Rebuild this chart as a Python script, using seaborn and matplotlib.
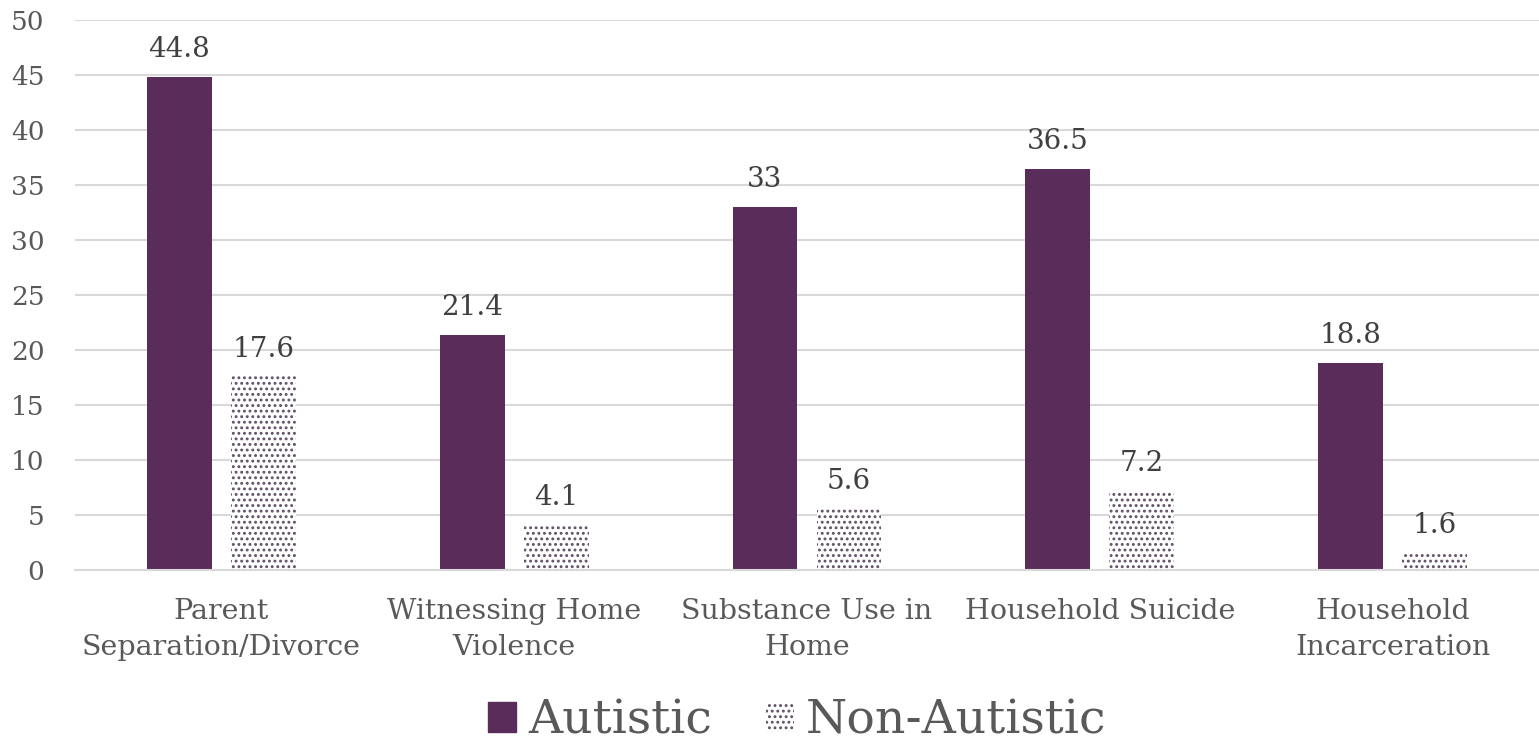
import pandas as pd
import matplotlib.pyplot as plt
import seaborn as sns
from matplotlib.patches import Patch

categories = ['Parent\nSeparation/Divorce', 'Witnessing Home\nViolence',
              'Substance Use in\nHome', 'Household Suicide',
              'Household\nIncarceration']
autistic = [44.8, 21.4, 33, 36.5, 18.8]
non_autistic = [17.6, 4.1, 5.6, 7.2, 1.6]
groups = ['Autistic', 'Non-Autistic']

df = pd.DataFrame({
    'category': categories * 2,
    'value': autistic + non_autistic,
    'group': [groups[0]] * len(categories) + [groups[1]] * len(categories),
})

sns.set_style('white')
plt.rcParams['font.family'] = ['DejaVu Serif', 'DejaVu Sans']
plt.rcParams['hatch.linewidth'] = 1.3

purple = '#5a2c5a'
dot_color = '#5e4f63'
text_grey = '#595959'

fig = plt.figure(figsize=(15.39, 7.43), dpi=100)
ax = fig.add_axes([75 / 1539, 1 - 570 / 743, 1 - 75 / 1539, 550 / 743])

# bars of ~66px with a ~19px gap inside each pair
sns.barplot(data=df, x='category', y='value', hue='group',
            palette=[purple, 'white'], width=0.575, gap=0.23,
            saturation=1, ax=ax, legend=False, linewidth=0)

for bar in ax.containers[1]:
    bar.set_hatch('...')
    bar.set_edgecolor(dot_color)
    bar.set_linewidth(0)

for cont in ax.containers:
    ax.bar_label(cont, fmt='%g', padding=10, fontsize=20, color='#404040')

ax.set_ylim(0, 50)
ax.set_yticks(range(0, 51, 5))
ax.set_xlim(-0.5, 4.5)
ax.yaxis.grid(True, color='#d9d9d9', linewidth=1.5)
ax.set_axisbelow(True)
for s in ['top', 'right', 'left']:
    ax.spines[s].set_visible(False)
ax.spines['bottom'].set_color('#d9d9d9')
ax.spines['bottom'].set_linewidth(1.5)
ax.tick_params(axis='both', length=0, labelcolor=text_grey)
ax.tick_params(axis='y', labelsize=19, pad=22)
ax.tick_params(axis='x', labelsize=20.5, pad=20)
for t in ax.get_xticklabels():
    t.set_linespacing(1.45)
ax.set_xlabel('')
ax.set_ylabel('')

handles = [Patch(facecolor=purple, edgecolor=purple, label=groups[0]),
           Patch(facecolor='white', edgecolor=dot_color, hatch='...',
                 linewidth=0, label=groups[1])]
leg = fig.legend(handles=handles, loc='lower center', ncol=2,
                 bbox_to_anchor=(0.518, -0.058), frameon=False, fontsize=34,
                 handlelength=0.6, handleheight=0.6, handletextpad=0.25,
                 columnspacing=1.15)
for t in leg.get_texts():
    t.set_color(text_grey)

fig.savefig('out.png', dpi=100)
